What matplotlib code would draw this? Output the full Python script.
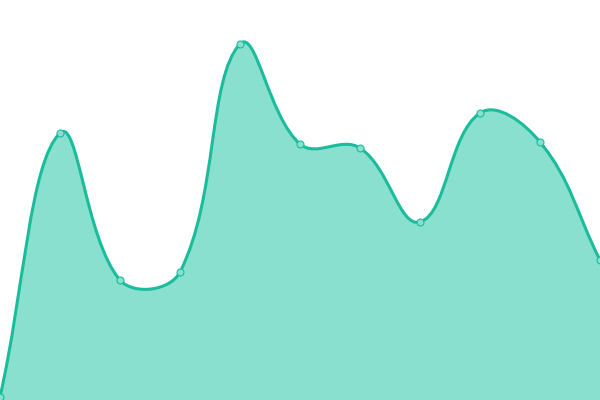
import numpy as np
import matplotlib
matplotlib.use("Agg")
import matplotlib.pyplot as plt
from matplotlib.path import Path
from matplotlib.patches import PathPatch

# data (x index, value on a 0..400 scale)
labels = list(range(11))
values = [3, 267, 120, 128, 356, 256, 252, 178, 287, 258, 140]

line_color = '#1abc9c'
fill_color = '#8ae0cf'
tension = 0.4

fig = plt.figure(figsize=(6, 4), dpi=100)
ax = fig.add_axes([0, 0, 1, 1])
ax.set_xlim(0, 600)
ax.set_ylim(0, 400)
ax.axis('off')

# x positions on a 600 px wide axis, one step per label
xs = np.array(labels, dtype=float) * 600 / (len(labels) - 1)
ys = np.array(values, dtype=float)
pts = np.column_stack([xs, ys])

# cardinal-style spline control points (like chart.js tension)
n = len(pts)
cp_prev = np.zeros_like(pts)
cp_next = np.zeros_like(pts)
for i in range(n):
    p0 = pts[i - 1] if i > 0 else pts[i]
    p1 = pts[i]
    p2 = pts[i + 1] if i < n - 1 else pts[i]
    d01 = np.hypot(*(p1 - p0))
    d12 = np.hypot(*(p2 - p1))
    s01 = d01 / (d01 + d12) if d01 + d12 else 0
    s12 = d12 / (d01 + d12) if d01 + d12 else 0
    fa = tension * s01
    fb = tension * s12
    cp_prev[i] = p1 - fa * (p2 - p0)
    cp_next[i] = p1 + fb * (p2 - p0)

verts = [tuple(pts[0])]
codes = [Path.MOVETO]
for i in range(n - 1):
    verts += [tuple(cp_next[i]), tuple(cp_prev[i + 1]), tuple(pts[i + 1])]
    codes += [Path.CURVE4] * 3

# filled area down to zero
fverts = verts + [(xs[-1], 0), (xs[0], 0), verts[0]]
fcodes = codes + [Path.LINETO, Path.LINETO, Path.CLOSEPOLY]
ax.add_patch(PathPatch(Path(fverts, fcodes), facecolor=fill_color, edgecolor='none', zorder=1))
ax.add_patch(PathPatch(Path(verts, codes), facecolor='none', edgecolor=line_color, lw=2.2, zorder=2))

ax.plot(xs, ys, 'o', ms=5, mfc=fill_color, mec=line_color, mew=0.8, zorder=3, clip_on=False)

fig.savefig('out.png', dpi=100)
